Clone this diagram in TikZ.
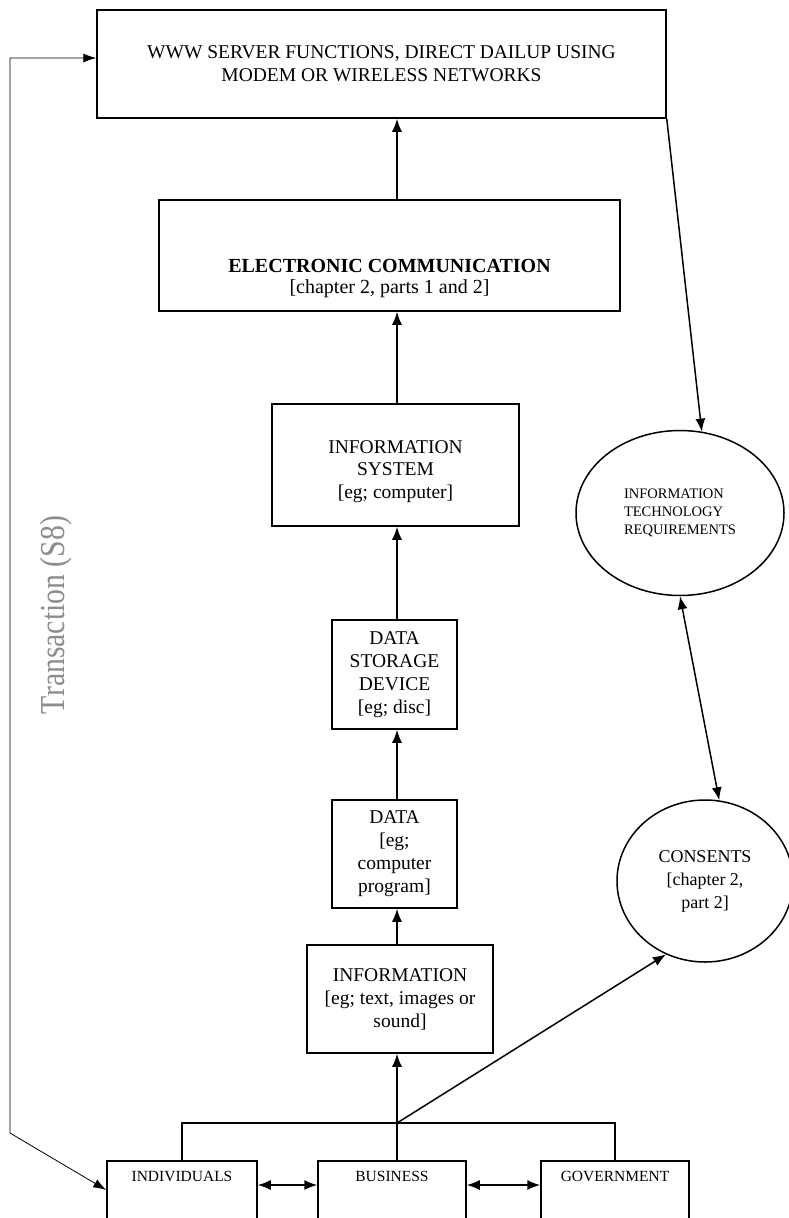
\documentclass[tikz,border=0pt]{standalone}
\usepackage{fontspec}
\setmainfont{Liberation Serif}
\usetikzlibrary{arrows.meta,shapes.geometric}

\tikzset{
  box/.style={draw, line width=1.5pt, inner sep=2pt, align=center, font=\fontsize{19.5}{23}\selectfont},
  lowbox/.style={draw, line width=1.5pt, anchor=north, inner xsep=2pt, inner ysep=8pt, text height=13pt, text depth=80pt, font=\fontsize{15.5}{18}\selectfont},
  oval/.style={draw, ellipse, line width=1.5pt, inner sep=0pt},
  link/.style={line width=1.5pt},
  con/.style={line width=1.5pt, -{Latex[length=13pt,width=10pt]}},
  dcon/.style={line width=1.5pt, {Latex[length=13pt,width=10pt]}-{Latex[length=13pt,width=10pt]}},
  side/.style={line width=0.8pt, {Latex[length=13pt,width=9pt]}-{Latex[length=13pt,width=9pt]}},
}

\begin{document}
\begin{tikzpicture}[x=1pt,y=-1pt]
\useasboundingbox (0,0) rectangle (788,1218);
% column of boxes
\node[box, minimum width=569pt, minimum height=108pt] (www) at (381.5,64) {WWW SERVER FUNCTIONS, DIRECT DAILUP USING\\MODEM OR WIRELESS NETWORKS};
\node[box, minimum width=461pt, minimum height=111pt] (ecomm) at (389.5,255.5) {};
\node[font=\fontsize{20}{21}\selectfont, align=center] (ecommtxt) at (389.5,279) {\textbf{ELECTRONIC COMMUNICATION}\\{[chapter 2, parts 1 and 2]}};
\node[box, minimum width=247pt, minimum height=122pt] (infosys) at (395.5,465) {};
\node[font=\fontsize{19.5}{22.5}\selectfont, align=center] (infosystxt) at (395.5,471.5) {INFORMATION\\SYSTEM\\{[eg; computer]}};
\node[box, minimum width=125pt, minimum height=109pt] (storage) at (394.5,674.5) {DATA\\STORAGE\\DEVICE\\{[eg; disc]}};
\node[box, minimum width=125pt, minimum height=108pt] (data) at (394.5,854) {DATA\\{[eg;}\\computer\\program]};
\node[box, minimum width=186pt, minimum height=108pt] (info) at (400,999) {INFORMATION\\{[eg; text, images or}\\sound]};
% bottom row
\node[lowbox, minimum width=150pt] (indiv) at (182,1160) {INDIVIDUALS};
\node[lowbox, minimum width=148pt] (biz) at (392,1160) {BUSINESS};
\node[lowbox, minimum width=148pt] (gov) at (615,1160) {GOVERNMENT};
% right side
\node[oval, minimum width=208pt, minimum height=165pt, align=left, font=\fontsize{14.5}{18}\selectfont] (itreq) at (680,513) {INFORMATION\\TECHNOLOGY\\REQUIREMENTS};
\node[oval, minimum width=176pt, minimum height=162pt, align=center, font=\fontsize{18}{23}\selectfont] (consent) at (705,881) {CONSENTS\\{[chapter 2,}\\part 2]};
\node[rotate=90, text=black!45, font=\fontsize{35}{36}\selectfont] (trans) at (56,615) {\scalebox{0.85}[1]{Transaction (S8)}};
\coordinate (spine) at (397,1123);
\coordinate (tl) at (10,58);
\coordinate (bl) at (10,1133);
% connectors
\draw[con] (ecomm.north -| spine) -- (www.south -| spine);
\draw[con] (infosys.north -| spine) -- (ecomm.south -| spine);
\draw[con] (storage.north -| spine) -- (infosys.south -| spine);
\draw[con] (data.north -| spine) -- (storage.south -| spine);
\draw[con] (info.north -| spine) -- (data.south -| spine);
\draw[con] (spine) -- (info.south -| spine);
\draw[link] (biz.north -| spine) -- (spine);
\draw[link] (indiv.north) |- (spine) -| (gov.north);
\draw[con] (spine) -- (consent.242);
\draw[con] (www.south east) -- (itreq.75);
\draw[dcon] (itreq.south) -- (consent.80);
\draw[dcon] ([yshift=-25pt]indiv.north east) -- ([yshift=-25pt]biz.north west);
\draw[dcon] ([yshift=-25pt]biz.north east) -- ([yshift=-25pt]gov.north west);
\draw[side] ([yshift=6pt]www.west) -- (tl) -- (bl) -- ([yshift=-30pt]indiv.north west);
\end{tikzpicture}
\end{document}
